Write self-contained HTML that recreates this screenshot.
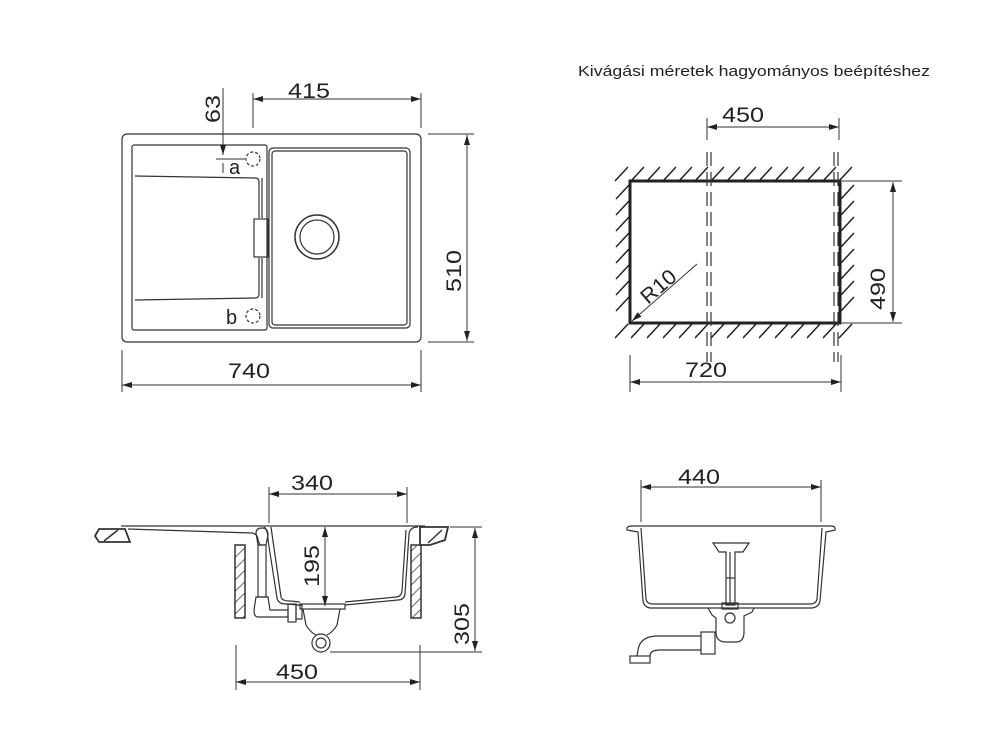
<!DOCTYPE html>
<html><head><meta charset="utf-8"><style>
html,body{margin:0;padding:0;background:#fff;}
svg{display:block}
text{font-family:"Liberation Sans",sans-serif;fill:#222;}
</style></head><body>
<svg width="1000" height="750" viewBox="0 0 1000 750" xmlns="http://www.w3.org/2000/svg">
<defs>
<marker id="ar" viewBox="0 0 10 6" refX="10" refY="3" markerWidth="10" markerHeight="6" orient="auto-start-reverse" markerUnits="userSpaceOnUse"><path d="M0,0 L10,3 L0,6 Z" fill="#222"/></marker>
<pattern id="hat" width="8" height="8" patternUnits="userSpaceOnUse" patternTransform="rotate(45)"><line x1="0" y1="0" x2="0" y2="8" stroke="#333" stroke-width="1.5"/></pattern>
</defs>
<g fill="none" stroke="#333" stroke-width="1.2">
<!-- TOP LEFT -->
<rect x="122" y="134" width="299" height="208" rx="5"/>
<rect x="132" y="145" width="135" height="185" rx="2"/>
<rect x="269" y="148" width="141" height="180" rx="4"/>
<rect x="272" y="151" width="135" height="174" rx="3"/>
<path d="M135,176 L255,178 Q259,178 259,182 L259,218"/>
<path d="M135,300 L255,298 Q259,298 259,294 L259,258"/>
<path d="M262,178 L262,218 M262,258 L262,298"/>
<rect x="254" y="219" width="14" height="38"/>
<circle cx="317" cy="237" r="22" stroke-width="1.5"/>
<circle cx="317" cy="237" r="17"/>
<circle cx="253" cy="159" r="7" stroke-dasharray="3,2"/>
<circle cx="253" cy="316" r="7" stroke-dasharray="3,2"/>
<g stroke-width="1">
<line x1="253" y1="93" x2="253" y2="128"/><line x1="421" y1="93" x2="421" y2="128"/>
<line x1="253" y1="99" x2="421" y2="99" marker-start="url(#ar)" marker-end="url(#ar)"/>
<line x1="223" y1="88" x2="223" y2="155" marker-end="url(#ar)"/>
<line x1="223" y1="163" x2="223" y2="173"/>
<line x1="216" y1="159" x2="245" y2="159"/>
<line x1="428" y1="134" x2="474" y2="134"/><line x1="428" y1="342" x2="474" y2="342"/>
<line x1="467" y1="135" x2="467" y2="341" marker-start="url(#ar)" marker-end="url(#ar)"/>
<line x1="122" y1="350" x2="122" y2="392"/><line x1="421" y1="350" x2="421" y2="392"/>
<line x1="122" y1="385" x2="421" y2="385" marker-start="url(#ar)" marker-end="url(#ar)"/>
</g>
<!-- TOP RIGHT hatch -->
<g stroke="#222" stroke-width="1.5">
<path d="M615,181 l13,-14 M631,181 l13,-14 M647,181 l13,-14 M663,181 l13,-14 M679,181 l13,-14 M695,181 l13,-14 M711,181 l13,-14 M727,181 l13,-14 M743,181 l13,-14 M759,181 l13,-14 M775,181 l13,-14 M791,181 l13,-14 M807,181 l13,-14 M823,181 l13,-14 M839,181 l13,-14"/>
<path d="M615,338 l13,-14 M631,338 l13,-14 M647,338 l13,-14 M663,338 l13,-14 M679,338 l13,-14 M695,338 l13,-14 M711,338 l13,-14 M727,338 l13,-14 M743,338 l13,-14 M759,338 l13,-14 M775,338 l13,-14 M791,338 l13,-14 M807,338 l13,-14 M823,338 l13,-14 M839,338 l13,-14"/>
<path d="M616,199 l13,-14 M616,215 l13,-14 M616,231 l13,-14 M616,247 l13,-14 M616,263 l13,-14 M616,279 l13,-14 M616,295 l13,-14 M616,311 l13,-14"/>
<path d="M841,199 l13,-14 M841,215 l13,-14 M841,231 l13,-14 M841,247 l13,-14 M841,263 l13,-14 M841,279 l13,-14 M841,295 l13,-14 M841,311 l13,-14"/>
</g>
<rect x="630" y="181" width="210" height="142" stroke="#222" stroke-width="3"/>
<g stroke-dasharray="14,6" stroke-width="1.2">
<line x1="707" y1="152" x2="707" y2="362"/><line x1="711" y1="152" x2="711" y2="362"/>
<line x1="834" y1="152" x2="834" y2="362"/><line x1="838" y1="152" x2="838" y2="362"/>
</g>
<g stroke-width="1">
<line x1="707" y1="118" x2="707" y2="140"/><line x1="839" y1="118" x2="839" y2="140"/>
<line x1="707" y1="127" x2="839" y2="127" marker-start="url(#ar)" marker-end="url(#ar)"/>
<line x1="842" y1="181" x2="902" y2="181"/><line x1="842" y1="323" x2="902" y2="323"/>
<line x1="893" y1="182" x2="893" y2="322" marker-start="url(#ar)" marker-end="url(#ar)"/>
<line x1="630" y1="355" x2="630" y2="392"/><line x1="841" y1="355" x2="841" y2="392"/>
<line x1="630" y1="382" x2="841" y2="382" marker-start="url(#ar)" marker-end="url(#ar)"/>
<line x1="697" y1="264" x2="632" y2="321" marker-end="url(#ar)"/>
</g>
<!-- BOTTOM LEFT -->
<path d="M99,529 H125 L130,542 H99 L95,536 Z" stroke-width="1.8"/>
<line x1="104" y1="541" x2="118" y2="530" stroke-width="1.5"/>
<path d="M121,526 H425" />
<path d="M128,529 L252,533 Q258,534 258,540 L260,545"/>
<path d="M264,527 Q268,530 268,540 L277,598 Q278,604 286,604 L300,605"/>
<path d="M271,527 L281,597 Q282,601 290,601 L300,602"/>
<path d="M345,605 L398,600 Q404,600 405,594 L409,534 Q410,527 418,527"/>
<path d="M345,602 L396,597 Q401,597 402,591 L406,530"/>
<path d="M420,527 H448 L445,540 L430,545 H420 Z" stroke-width="1.8"/>
<line x1="428" y1="543" x2="442" y2="530" stroke-width="1.5"/>
<rect x="235" y="545" width="10" height="73" fill="url(#hat)" stroke-width="1.5"/>
<rect x="411" y="545" width="10" height="73" fill="url(#hat)" stroke-width="1.5"/>
<path d="M256,533 Q256,528 262,528 Q268,528 268,535 L266,545 H258 Z"/>
<rect x="258" y="545" width="8" height="52"/>
<path d="M256,597 H268 L270,610 H288 V617 H258 Q254,617 254,610 Z"/>
<rect x="288" y="604" width="8" height="18"/>
<rect x="296" y="605" width="6" height="14"/>
<rect x="300" y="604" width="45" height="5"/>
<path d="M303,609 L306,625 Q310,632 316,635 M340,609 L337,625 Q333,632 327,635"/>
<circle cx="321" cy="643" r="9"/><circle cx="321" cy="643" r="5"/>
<g stroke-width="1">
<line x1="269" y1="487" x2="269" y2="523"/><line x1="407" y1="487" x2="407" y2="523"/>
<line x1="269" y1="494" x2="407" y2="494" marker-start="url(#ar)" marker-end="url(#ar)"/>
<line x1="325" y1="527" x2="325" y2="606" marker-start="url(#ar)" marker-end="url(#ar)"/>
<line x1="450" y1="527" x2="482" y2="527"/><line x1="330" y1="652" x2="482" y2="652"/>
<line x1="475" y1="528" x2="475" y2="651" marker-start="url(#ar)" marker-end="url(#ar)"/>
<line x1="236" y1="645" x2="236" y2="690"/><line x1="420" y1="645" x2="420" y2="690"/>
<line x1="236" y1="682" x2="420" y2="682" marker-start="url(#ar)" marker-end="url(#ar)"/>
</g>
<!-- BOTTOM RIGHT -->
<path d="M627,530 Q626,526 632,526 H831 Q836,526 835,530 Q831,531 826,532 L820,601 Q819,607 812,608 L650,608 Q644,607 643,601 L638,532 Q633,531 627,530 Z"/>
<path d="M641,528 L646,599 Q647,604 653,604 L810,604 Q816,604 817,599 L822,528"/>
<path d="M713,543 H749 L743,552 H735 V605 H726 V552 H719 Z"/>
<line x1="730" y1="552" x2="730" y2="605"/><line x1="726" y1="578" x2="735" y2="578"/>
<rect x="722" y="603" width="16" height="6"/>
<path d="M708,608 L712,615 L716,618 V632 Q716,642 726,642 H736 Q744,642 744,632 V616 L752,612 L754,608"/>
<circle cx="730" cy="618" r="5"/>
<rect x="701" y="632" width="14" height="22"/>
<path d="M701,636 H658 Q640,636 638,650 L637,656 M701,650 H660 Q650,650 650,656"/>
<rect x="630" y="656" width="20" height="7"/>
<g stroke-width="1">
<line x1="641" y1="480" x2="641" y2="522"/><line x1="821" y1="480" x2="821" y2="522"/>
<line x1="641" y1="487" x2="821" y2="487" marker-start="url(#ar)" marker-end="url(#ar)"/>
</g>
</g>
<!-- TEXT -->
<g font-size="21">
<text x="288" y="98" textLength="42" lengthAdjust="spacingAndGlyphs">415</text>
<text x="220" y="123" transform="rotate(-90 220 123)" textLength="28" lengthAdjust="spacingAndGlyphs">63</text>
<text x="229" y="174" font-size="20">a</text>
<text x="226" y="324" font-size="20">b</text>
<text x="461" y="292" transform="rotate(-90 461 292)" textLength="42" lengthAdjust="spacingAndGlyphs">510</text>
<text x="228" y="378" textLength="42" lengthAdjust="spacingAndGlyphs">740</text>
<text x="722" y="122" textLength="42" lengthAdjust="spacingAndGlyphs">450</text>
<text x="885" y="310" transform="rotate(-90 885 310)" textLength="42" lengthAdjust="spacingAndGlyphs">490</text>
<text x="685" y="377" textLength="42" lengthAdjust="spacingAndGlyphs">720</text>
<text x="648" y="305" transform="rotate(-41 648 305)" textLength="40" lengthAdjust="spacingAndGlyphs">R10</text>
<text x="291" y="490" textLength="42" lengthAdjust="spacingAndGlyphs">340</text>
<text x="319" y="587" transform="rotate(-90 319 587)" textLength="42" lengthAdjust="spacingAndGlyphs">195</text>
<text x="469" y="645" transform="rotate(-90 469 645)" textLength="42" lengthAdjust="spacingAndGlyphs">305</text>
<text x="276" y="679" textLength="42" lengthAdjust="spacingAndGlyphs">450</text>
<text x="678" y="484" textLength="42" lengthAdjust="spacingAndGlyphs">440</text>
</g>
<text x="578" y="76" font-size="15" textLength="352" lengthAdjust="spacingAndGlyphs">Kivágási méretek hagyományos beépítéshez</text>
</svg>
</body></html>
